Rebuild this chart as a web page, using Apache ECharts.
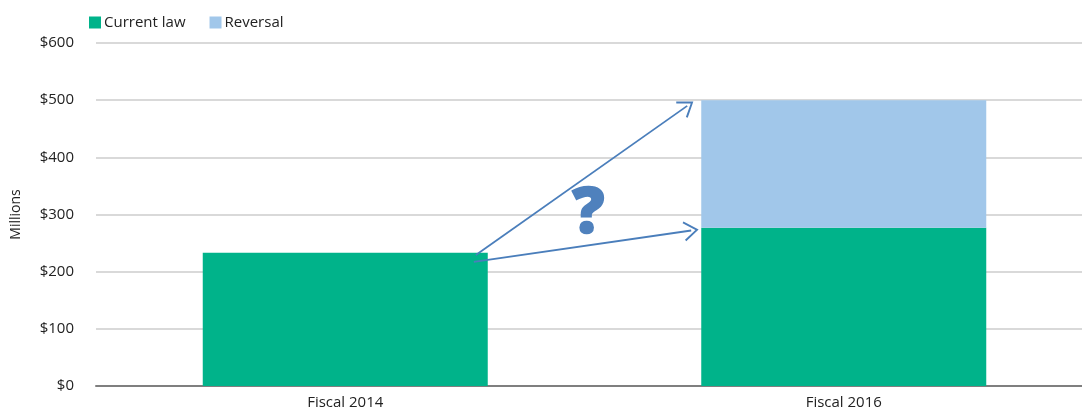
<!DOCTYPE html>
<html><head><meta charset="utf-8">
<script src="https://cdn.jsdelivr.net/npm/echarts@6/dist/echarts.min.js"></script>
<style>html,body{margin:0;padding:0;background:#fff}#c{width:1082px;height:419px}</style>
</head><body><div id="c"></div>
<script>
const categories = ['Fiscal 2014', 'Fiscal 2016'];
const currentLaw = [233, 277];
const reversal = [null, 223];
const yTicks = { min: 0, max: 600, interval: 100 };
// annotation arrows: [startX, startY, endX, endY] in (category-index, $ millions) space
const arrowHigh = [0.262, 229, 0.686, 490];
const arrowLow = [0.258, 217, 0.694, 272];
const questionMark = [0.488, 300];

const font = 'Open Sans';
const arrowColor = '#4a7ebb';
const arrowHead = 'path://M10,0 L20,13 L18.3,14 L10,3 L1.7,14 L0,13 Z';

const chart = echarts.init(document.getElementById('c'));
chart.setOption({
  animation: false,
  textStyle: { fontFamily: font },
  legend: {
    data: ['Current law', 'Reversal'],
    left: 84, top: 10, itemWidth: 12, itemHeight: 12, itemGap: 24,
    icon: 'rect',
    textStyle: { fontSize: 15, color: '#222', padding: [0, 0, 0, -2] }
  },
  grid: { left: 96, width: 997, top: 43, bottom: 33, outerBoundsMode: 'none', containLabel: false },
  xAxis: [{
    type: 'category', data: categories,
    axisTick: { show: false },
    axisLine: { lineStyle: { color: '#7f7f7f', width: 2 } },
    axisLabel: { fontSize: 15, color: '#222', margin: 9 }
  }, {
    type: 'value', min: -0.5, max: 1.5, show: false
  }],
  yAxis: {
    type: 'value', min: yTicks.min, max: yTicks.max, interval: yTicks.interval,
    name: 'Millions', nameLocation: 'middle', nameGap: 73, nameRotate: 90,
    nameTextStyle: { fontSize: 14, color: '#222' },
    axisLabel: { formatter: '${value}', fontSize: 15, color: '#222', margin: 22 },
    axisLine: { show: false }, axisTick: { show: false },
    splitLine: { lineStyle: { color: '#d9d9d9', width: 2 } }
  },
  series: [{
    name: 'Current law', type: 'bar', stack: 'a', data: currentLaw,
    barWidth: 285, itemStyle: { color: '#00b38a' }
  }, {
    name: 'Reversal', type: 'bar', stack: 'a', data: reversal,
    barWidth: 285, itemStyle: { color: '#a1c7ea' }
  }, {
    name: 'annot', type: 'scatter', xAxisIndex: 1, silent: true,
    symbol: 'circle', symbolSize: 2,
    itemStyle: { color: 'rgba(255,255,255,0)', opacity: 1 },
    data: [questionMark],
    label: {
      show: true, position: 'inside', formatter: '?', opacity: 1,
      fontSize: 64, fontWeight: 900, color: '#4f81bd', fontFamily: 'Open Sans',
      textBorderColor: '#4f81bd', textBorderWidth: 1.5
    },
    markLine: {
      silent: true, animation: false,
      symbol: ['none', arrowHead], symbolSize: [20, 15],
      lineStyle: { color: arrowColor, width: 1.8, type: 'solid' },
      itemStyle: { color: arrowColor },
      label: { show: false },
      data: [
        [{ coord: [arrowHigh[0], arrowHigh[1]] }, { coord: [arrowHigh[2], arrowHigh[3]] }],
        [{ coord: [arrowLow[0], arrowLow[1]] }, { coord: [arrowLow[2], arrowLow[3]] }]
      ]
    }
  }]
});
</script></body></html>
